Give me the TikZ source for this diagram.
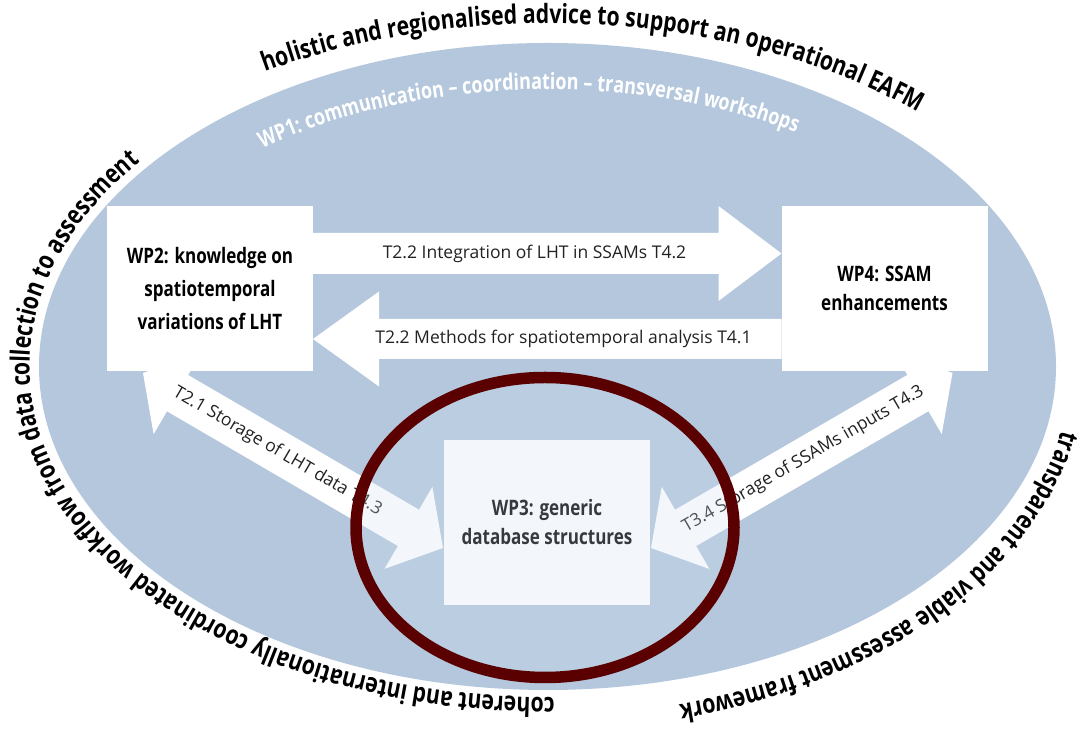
\documentclass[tikz,border=0pt]{standalone}
\usepackage{fontspec}
\setmainfont{Open Sans}
\newfontfamily\condfont[FakeStretch=0.8]{Open Sans}
\usetikzlibrary{calc,decorations.text}
\definecolor{ellblue}{HTML}{B4C7DD}
\definecolor{ringred}{HTML}{5A0000}
\definecolor{veil}{HTML}{D1E0EC}
\definecolor{labeltext}{HTML}{222222}
\pgfdeclarelayer{bg}
\pgfdeclarelayer{top}
\pgfsetlayers{bg,main,top}
\newcommand\outerfont{\condfont\bfseries\fontsize{26.5}{26.5}\selectfont}
\newcommand\innerfont{\condfont\bfseries\fontsize{22.5}{22.5}\selectfont}
\newcommand\dblblockarrow[5]{%
  \fill[arrowfill] (#1) -- ($(#1)!#3!(#2)!#4!90:(#2)$) -- ($(#1)!#3!(#2)!#5!90:(#2)$)
   -- ($(#2)!#3!(#1)!#5!-90:(#1)$) -- ($(#2)!#3!(#1)!#4!-90:(#1)$) -- (#2)
   -- ($(#2)!#3!(#1)!#4!90:(#1)$) -- ($(#2)!#3!(#1)!#5!90:(#1)$)
   -- ($(#1)!#3!(#2)!#5!-90:(#2)$) -- ($(#1)!#3!(#2)!#4!-90:(#2)$) -- cycle;}
\newcommand\singleblockarrow[5]{%
  \fill[arrowfill] ($(#1)!#5!90:(#2)$) -- ($(#2)!#3!(#1)!#5!-90:(#1)$)
   -- ($(#2)!#3!(#1)!#4!-90:(#1)$) -- (#2) -- ($(#2)!#3!(#1)!#4!90:(#1)$)
   -- ($(#2)!#3!(#1)!#5!90:(#1)$) -- ($(#1)!#5!-90:(#2)$) -- cycle;}
\tikzset{
  arrowfill/.style={fill=white},
  wpbox/.style={fill=white, draw=none, minimum width=206pt, minimum height=165pt,
    inner sep=0pt, outer sep=0pt, align=center},
  lbl/.style={font=\fontsize{17.5}{20}\selectfont, text=labeltext, inner sep=0pt},
}
\begin{document}
\begin{tikzpicture}[x=1pt,y=1pt]
\useasboundingbox (0,0) rectangle (1085,735);
\coordinate (C) at (547.5,368.5);
% boxes
\node[wpbox, font=\condfont\bfseries\fontsize{21.3}{33}\selectfont] (wp2) at (210,446.5)
  {WP2: knowledge on\\spatiotemporal\\variations of LHT};
\node[wpbox, font=\condfont\bfseries\fontsize{21.3}{29}\selectfont] (wp4) at (884.5,446.5)
  {WP4: SSAM\\enhancements};
\node[wpbox, font=\condfont\bfseries\fontsize{21.3}{29}\selectfont] (wp3) at (547,212.5)
  {WP3: generic\\database structures};
% connector end points
\coordinate (a1s) at ([yshift=35pt]wp2.east);
\coordinate (a1t) at ([yshift=35pt]wp4.west);
\coordinate (a2s) at ([yshift=-50.5pt]wp4.west);
\coordinate (a2t) at ([yshift=-50.5pt]wp2.east);
\coordinate (d1a) at ([shift={(36pt,-2pt)}]wp2.south west);
\coordinate (d1b) at ([shift={(-1pt,-25.5pt)}]wp3.west);
\coordinate (d2a) at ([shift={(-35pt,-2pt)}]wp4.south east);
\coordinate (d2b) at ([shift={(1pt,-25.5pt)}]wp3.east);
\begin{pgfonlayer}{bg}
  \fill[white] (0,0) rectangle (1085,735);
  \fill[ellblue] (C) ellipse[x radius=508.5pt, y radius=323.5pt];
  % outer texts
  \path[decorate, decoration={text along path, text align=left,
    text={|\outerfont|holistic and regionalised advice to support an operational EAFM}}]
    ($(C)+(120.8:552pt and 343pt)$) arc[start angle=120.8, end angle=20, x radius=552pt, y radius=343pt];
  \path[decorate, decoration={text along path, text align=left,
    text={|\outerfont|coherent and internationally coordinated workflow from data collection to assessment}}]
    ($(C)+(270.8:518pt and 331pt)$) arc[start angle=270.8, end angle=110, x radius=518pt, y radius=331pt];
  \path[decorate, decoration={text along path, text align=left,
    text={|\outerfont|transparent and viable assessment framework}}]
    ($(C)+(349.5:523pt and 349pt)$) arc[start angle=349.5, end angle=250, x radius=523pt, y radius=349pt];
  \path[decorate, decoration={text along path, text align=left, text color=white,
    text={|\innerfont|WP1: communication – coordination – transversal workshops}}]
    ($(C)+(128:463pt and 277pt)$) arc[start angle=128, end angle=30, x radius=463pt, y radius=277pt];
  % block arrows
  \singleblockarrow{a1s}{a1t}{63pt}{47.5pt}{20.5pt}
  \singleblockarrow{a2s}{a2t}{66pt}{47.5pt}{20pt}
  \dblblockarrow{d1a}{d1b}{40pt}{47.5pt}{21pt}
  \dblblockarrow{d2a}{d2b}{40pt}{47.5pt}{21pt}
\end{pgfonlayer}
% arrow labels
\node[lbl] (l1) at (534.5,481.5) {T2.2 Integration of LHT in SSAMs T4.2};
\node[lbl] (l2) at (563.5,396) {T2.2 Methods for spatiotemporal analysis T4.1};
\path (d1a) -- (d1b) node[lbl, sloped, pos=0.448] (l3) {T2.1 Storage of LHT data T4.3};
\path (d2b) -- (d2a) node[lbl, sloped, pos=0.505] (l4) {T3.4 Storage of SSAMs inputs T4.3};
\begin{pgfonlayer}{top}
  \fill[veil, fill opacity=0.26] (545,207.5) ellipse[x radius=189pt, y radius=150pt];
  \draw[ringred, line width=11.5pt] (545,207.5) ellipse[x radius=189pt, y radius=150pt];
\end{pgfonlayer}
\end{tikzpicture}
\end{document}
